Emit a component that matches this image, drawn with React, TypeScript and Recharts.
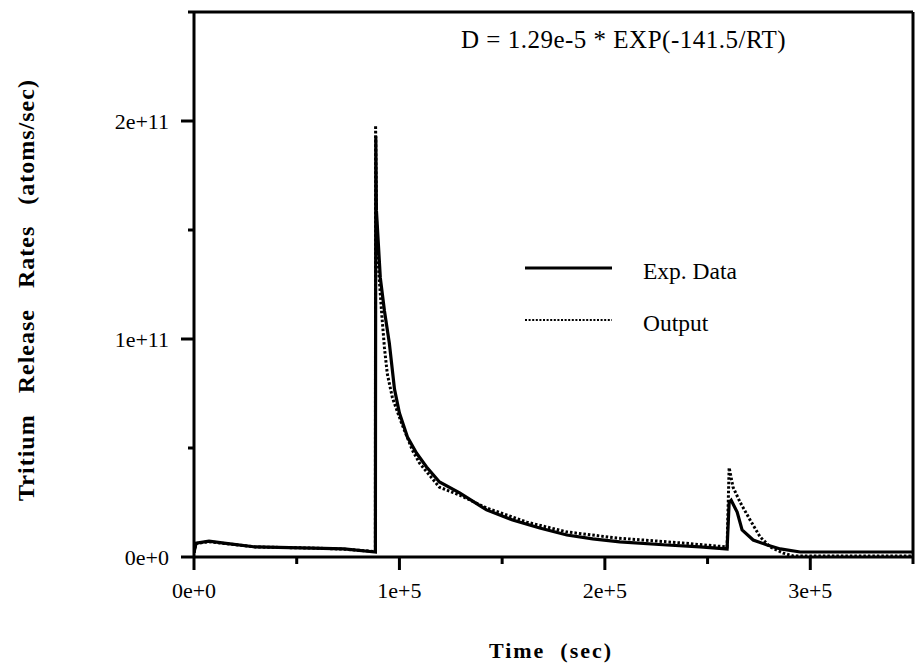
import React from 'react';
import { LineChart, Line, XAxis, YAxis, Legend, ReferenceLine } from 'recharts';

// Time (s) and tritium release rate (atoms/s)
const expTime = [0, 1000, 7300, 14600, 30000, 57600, 73000, 88300, 88500, 88800, 90700, 92700, 95100, 97600, 100000, 103900, 108300, 113200, 119500, 129300, 142400, 155100, 168300, 181500, 194100, 207300, 230200, 246300, 259500, 260500, 261500, 264400, 266800, 272200, 279000, 285400, 295100, 350000];
const expRate = [0.02e11, 0.064e11, 0.073e11, 0.064e11, 0.046e11, 0.041e11, 0.037e11, 0.023e11, 1.93e11, 1.59e11, 1.28e11, 1.13e11, 0.98e11, 0.77e11, 0.66e11, 0.55e11, 0.477e11, 0.413e11, 0.344e11, 0.294e11, 0.216e11, 0.17e11, 0.133e11, 0.101e11, 0.083e11, 0.069e11, 0.055e11, 0.046e11, 0.037e11, 0.25e11, 0.26e11, 0.206e11, 0.124e11, 0.078e11, 0.055e11, 0.037e11, 0.023e11, 0.023e11];

const outTime = [0, 1000, 7300, 14600, 30000, 57600, 73000, 88300, 88400, 88800, 90000, 91500, 92700, 94100, 96600, 101000, 106300, 109800, 119500, 129300, 142400, 162000, 181500, 205900, 238000, 259500, 260500, 262400, 265900, 270700, 275600, 280500, 286800, 291700, 350000];
const outRate = [0.02e11, 0.062e11, 0.07e11, 0.062e11, 0.046e11, 0.041e11, 0.036e11, 0.025e11, 1.98e11, 1.55e11, 1.3e11, 1.1e11, 0.96e11, 0.84e11, 0.73e11, 0.615e11, 0.49e11, 0.43e11, 0.32e11, 0.284e11, 0.225e11, 0.16e11, 0.115e11, 0.087e11, 0.064e11, 0.046e11, 0.41e11, 0.32e11, 0.25e11, 0.17e11, 0.092e11, 0.046e11, 0.018e11, 0.005e11, 0.005e11];

const xTicks = [0, 50000, 100000, 150000, 200000, 250000, 300000, 350000];
const xTickLabels = ['0e+0', '', '1e+5', '', '2e+5', '', '3e+5', ''];
const yTicks = [0, 0.5e11, 1e11, 1.5e11, 2e11, 2.5e11];
const yTickLabels = ['0e+0', '', '1e+11', '', '2e+11', ''];

const seriesNames = ['Exp. Data', 'Output'];
const formula = 'D = 1.29e-5 * EXP(-141.5/RT)';
const xTitle = 'Time  (sec)';
const yTitle = 'Tritium   Release   Rates   (atoms/sec)';

const expData = expTime.map((t, i) => ({ t, rate: expRate[i] }));
const outData = outTime.map((t, i) => ({ t, rate: outRate[i] }));

const FONT = '"Liberation Serif", "Times New Roman", Times, serif';

const XTick = (props: any) => {
  const { x, y, payload } = props;
  const i = xTicks.indexOf(payload.value);
  const label = i >= 0 ? xTickLabels[i] : '';
  const major = label !== '';
  return (
    <g>
      <line x1={x} x2={x} y1={y} y2={y + (major ? 13 : 7)} stroke="#000" strokeWidth={3} />
      {major && (
        <text x={x} y={y + 41} textAnchor="middle" fontFamily={FONT} fontSize={22} fill="#000">
          {label}
        </text>
      )}
    </g>
  );
};

const YTick = (props: any) => {
  const { x, y, payload } = props;
  const i = yTicks.indexOf(payload.value);
  const label = i >= 0 ? yTickLabels[i] : '';
  const major = label !== '';
  return (
    <g>
      <line x1={x - (major ? 13 : 6)} x2={x} y1={y} y2={y} stroke="#000" strokeWidth={3} />
      {major && (
        <text x={x - 25} y={y + 7.5} textAnchor="end" fontFamily={FONT} fontSize={22} fill="#000">
          {label}
        </text>
      )}
    </g>
  );
};

const LegendContent = (props: any) => {
  const payload = props.payload || [];
  return (
    <svg width={240} height={90} style={{ display: 'block' }}>
      {payload.map((p: any, i: number) => {
        const yLine = i === 0 ? 18 : 70;
        const dashed = p.payload && p.payload.strokeDasharray;
        return (
          <g key={i}>
            <line
              x1={5}
              x2={92}
              y1={yLine}
              y2={yLine}
              stroke="#000"
              strokeWidth={dashed ? 2 : 3}
              strokeDasharray={dashed ? '2 1.6' : undefined}
            />
            <text x={123} y={yLine + 11} fontFamily={FONT} fontSize={23.5} fill="#000">
              {p.value}
            </text>
          </g>
        );
      })}
    </svg>
  );
};

export default function App() {
  return (
    <div style={{ position: 'absolute', left: 0, top: 0, width: 916, height: 664, background: '#fff' }}>
      <LineChart width={916} height={664} margin={{ top: 12, right: 3, bottom: 0, left: 0 }}>
        <XAxis
          dataKey="t"
          type="number"
          domain={[0, 350000]}
          ticks={xTicks}
          allowDataOverflow
          height={107}
          tickLine={false}
          tickSize={0}
          tickMargin={0}
          axisLine={{ stroke: '#000', strokeWidth: 3 }}
          tick={<XTick />}
          interval={0}
        />
        <YAxis
          type="number"
          domain={[0, 2.5e11]}
          ticks={yTicks}
          allowDataOverflow
          width={194}
          tickLine={false}
          tickSize={0}
          tickMargin={0}
          axisLine={{ stroke: '#000', strokeWidth: 3 }}
          tick={<YTick />}
          interval={0}
        />
        <ReferenceLine y={2.5e11} stroke="#000" strokeWidth={3} />
        <ReferenceLine x={350000} stroke="#000" strokeWidth={3} />
        <Line
          data={expData}
          dataKey="rate"
          name={seriesNames[0]}
          type="linear"
          stroke="#000"
          strokeWidth={3.2}
          dot={false}
          isAnimationActive={false}
        />
        <Line
          data={outData}
          dataKey="rate"
          name={seriesNames[1]}
          type="linear"
          stroke="#000"
          strokeWidth={3}
          strokeDasharray="2.5 2"
          dot={false}
          isAnimationActive={false}
        />
        <Legend
          layout="horizontal"
          verticalAlign="middle"
          align="center"
          content={<LegendContent />}
          wrapperStyle={{ position: 'absolute', left: 520, top: 250, width: 240, height: 90 }}
        />
        <text x={461} y={48} fontFamily={FONT} fontSize={25} letterSpacing={0.5} fill="#000">
          {formula}
        </text>
        <text
          x={551}
          y={658}
          textAnchor="middle"
          fontFamily={FONT}
          fontSize={22}
          fontWeight="bold"
          letterSpacing={2}
          style={{ whiteSpace: 'pre' }}
          fill="#000"
        >
          {xTitle}
        </text>
        <text
          x={34}
          y={290}
          transform="rotate(-90, 34, 290)"
          textAnchor="middle"
          fontFamily={FONT}
          fontSize={24}
          fontWeight="bold"
          letterSpacing={1}
          style={{ whiteSpace: 'pre' }}
          fill="#000"
        >
          {yTitle}
        </text>
      </LineChart>
    </div>
  );
}
